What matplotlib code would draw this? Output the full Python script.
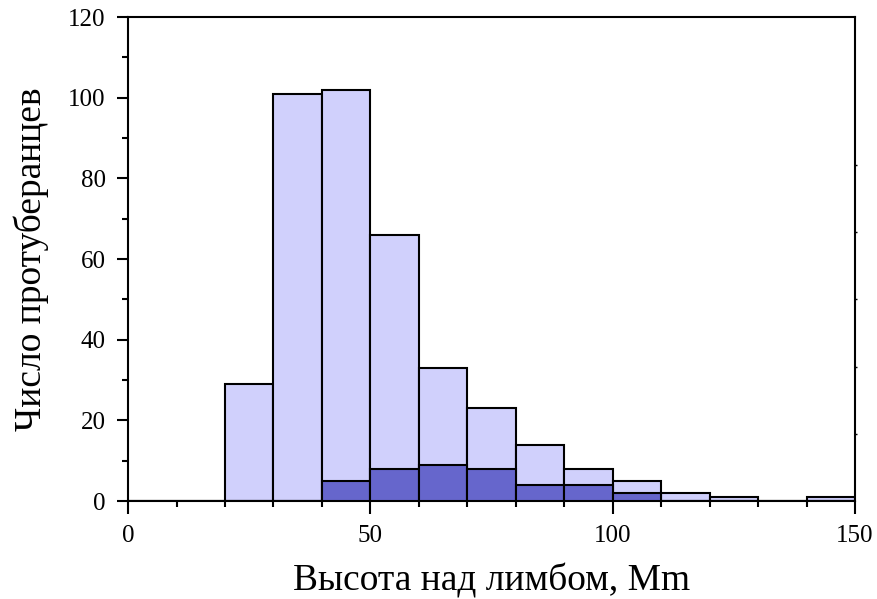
import numpy as np
import matplotlib
matplotlib.use("Agg")
import matplotlib.pyplot as plt

# bin edges (Mm) and counts
bin_left = [0, 10, 20, 30, 40, 50, 60, 70, 80, 90, 100, 110, 120, 130, 140]
all_counts = [0, 0, 29, 101, 102, 66, 33, 23, 14, 8, 5, 2, 1, 0, 1]
sub_counts = [0, 0, 0, 0, 5, 8, 9, 8, 4, 4, 2, 0, 0, 0, 0]
bin_width = 10

x_ticks = [0, 50, 100, 150]
y_ticks = [0, 20, 40, 60, 80, 100, 120]

plt.rcParams['font.family'] = ['Liberation Serif', 'DejaVu Serif']

fig = plt.figure(figsize=(8.77, 5.99), dpi=100)
ax = fig.add_axes([0.146, 0.1636, 0.829, 0.808])

ax.bar(bin_left, all_counts, width=bin_width, align="edge",
       color="#d0d0fc", edgecolor="black", linewidth=1.5, zorder=2)
ax.bar(bin_left, sub_counts, width=bin_width, align="edge",
       color="#6666cc", edgecolor="black", linewidth=1.5, zorder=3)

ax.set_xlim(0, 150)
ax.set_ylim(0, 120)
ax.set_xticks(x_ticks)
ax.set_xticks(np.arange(0, 151, 10), minor=True)
ax.set_yticks(y_ticks)
ax.set_yticks(np.arange(0, 121, 10), minor=True)

ax.tick_params(axis="both", which="major", direction="out", length=8, width=1.5,
               labelsize=18, colors="black", pad=8)
ax.tick_params(axis="both", which="minor", direction="out", length=4, width=1.5)
ax.tick_params(axis="x", which="major", length=9, pad=8)

for sp in ax.spines.values():
    sp.set_linewidth(1.5)

# tiny tick stubs on the right edge
ax2 = ax.twinx()
ax2.set_ylim(0, 120)
ax2.set_yticks([100 / 6 * k for k in range(1, 6)])
ax2.tick_params(axis="y", length=1.5, width=1, labelright=False)
for sp in ax2.spines.values():
    sp.set_visible(False)

ax.set_xlabel("Высота над лимбом, Mm", fontsize=27, labelpad=12)
ax.set_ylabel("Число протуберанцев", fontsize=27, labelpad=14)

fig.savefig("out.png", dpi=100)
